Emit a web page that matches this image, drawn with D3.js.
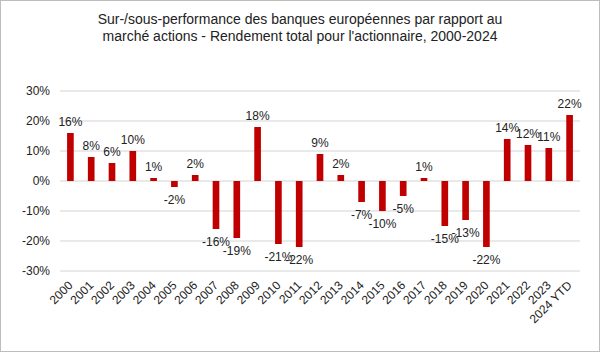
<!DOCTYPE html>
<html>
<head>
<meta charset="utf-8">
<script src="https://cdn.jsdelivr.net/npm/d3@7"></script>
<style>
  body { margin: 0; background: #fff; }
  svg { font-family: "Liberation Sans", Arial, sans-serif; }
</style>
</head>
<body>
<svg id="chart" width="600" height="352"></svg>
<script>
var years = ["2000","2001","2002","2003","2004","2005","2006","2007","2008","2009",
  "2010","2011","2012","2013","2014","2015","2016","2017","2018","2019",
  "2020","2021","2022","2023","2024 YTD"];
var values = [16, 8, 6, 10, 1, -2, 2, -16, -19, 18,
  -21, -22, 9, 2, -7, -10, -5, 1, -15, -13,
  -22, 14, 12, 11, 22];
var yTicks = [-30, -20, -10, 0, 10, 20, 30];
var titleLines = ["Sur-/sous-performance des banques européennes par rapport au",
  "marché actions - Rendement total pour l'actionnaire, 2000-2024"];

var svg = d3.select("#chart"),
    margin = {top: 91, right: 20, bottom: 81, left: 60},
    width = 600 - margin.left - margin.right,
    height = 352 - margin.top - margin.bottom;

// frame
svg.append("rect")
    .attr("x", 0.5).attr("y", 0.5)
    .attr("width", 599).attr("height", 351)
    .attr("fill", "#fff")
    .attr("stroke", "#bdbdbd");

svg.append("g").selectAll("text")
    .data(titleLines)
    .enter().append("text")
    .attr("x", 300)
    .attr("y", function(d, i) { return 24 + i * 17; })
    .attr("text-anchor", "middle")
    .style("font-size", "14px")
    .attr("fill", "#222")
    .text(function(d) { return d; });

var g = svg.append("g").attr("transform", "translate(" + margin.left + "," + margin.top + ")");

var x = d3.scaleBand().domain(years).range([0, width]).paddingInner(0.68).paddingOuter(0.34),
    y = d3.scaleLinear().domain([-30, 30]).range([height, 0]);

// grid lines
g.append("g").selectAll("line")
    .data(yTicks)
    .enter().append("line")
    .attr("x1", 0).attr("x2", width)
    .attr("y1", function(d) { return y(d); })
    .attr("y2", function(d) { return y(d); })
    .attr("stroke", "#d4d4d4")
    .attr("stroke-width", 1.2);

var yAxis = g.append("g")
    .call(d3.axisLeft(y).tickValues(yTicks).tickSize(0).tickPadding(10)
      .tickFormat(function(d) { return d + "%"; }));
yAxis.select(".domain").remove();
yAxis.selectAll("text").style("font-size", "12px").attr("fill", "#222");

var xAxis = g.append("g")
    .attr("transform", "translate(0," + height + ")")
    .call(d3.axisBottom(x).tickSize(0));
xAxis.select(".domain").remove();
xAxis.selectAll("text")
    .style("font-size", "12px")
    .attr("fill", "#222")
    .attr("text-anchor", "end")
    .attr("y", 0)
    .attr("dy", 0)
    .attr("transform", "translate(3,15) rotate(-45)");

// bars
g.append("g").selectAll("rect")
    .data(values)
    .enter().append("rect")
    .attr("x", function(d, i) { return x(years[i]); })
    .attr("width", x.bandwidth())
    .attr("y", function(d) { return y(Math.max(0, d)); })
    .attr("height", function(d) { return Math.abs(y(d) - y(0)); })
    .attr("fill", "#c00000");

// value labels
g.append("g").selectAll("text")
    .data(values)
    .enter().append("text")
    .attr("x", function(d, i) { return x(years[i]) + x.bandwidth() / 2; })
    .attr("y", function(d) { return d >= 0 ? y(d) - 7 : y(d) + 17; })
    .attr("text-anchor", "middle")
    .style("font-size", "12px")
    .attr("fill", "#222")
    .text(function(d) { return d + "%"; });
</script>
</body>
</html>
